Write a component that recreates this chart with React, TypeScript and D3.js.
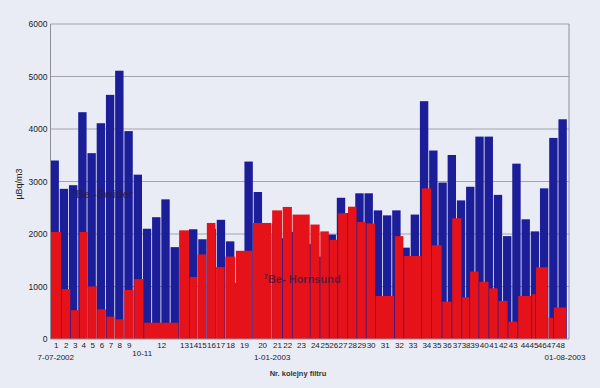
import React, { useEffect, useRef } from "react";
import * as d3 from "d3";

// 7Be - Swider, weekly filters (uBq/m3)
const swiderValues = [
  3400, 2860, 2930, 4320, 3540, 4110, 4650, 5110, 3960, 3130,
  2100, 2320, 2660, 1750, 1470, 2090, 1900, 2100, 2270, 1860,
  1070, 3380, 2800, 2000, 2200, 1920, 2040, 2200, 1810, 1570,
  1990, 2690, 2400, 2775, 2775, 2450, 2355, 2450, 1740, 2370,
  4530, 3590, 2980, 3505, 2640, 2900, 3855, 3855, 2745, 1960,
  3340, 2280, 2050, 2870, 3830, 4185,
];
const swiderPeriod = 7; // days per filter

// 7Be - Hornsund, filters of varying length (start day from 7-07-2002)
const hornsundLabels = [
  "1", "2", "3", "4", "5", "6", "7", "8", "9", "10-11", "12",
  "13", "14", "15", "16", "17", "18", "19", "20", "21", "22", "23",
  "24", "25", "26", "27", "28", "29", "30", "31", "32", "33", "34",
  "35", "36", "37", "38", "39", "40", "41", "42", "43", "44", "45",
  "46", "47", "48",
];
const hornsundStarts = [
  0, 8.5, 15.5, 22, 28.5, 35.5, 42.5, 49, 56, 63.5, 71,
  97.5, 105.5, 111.5, 118.5, 125.5, 132.5, 140.5, 153.5, 168, 176, 183.5,
  197, 204.5, 211.5, 218, 225.5, 232.5, 239.5, 246.5, 261, 268, 281.5,
  289, 297, 304.5, 312, 318, 325, 332.5, 339.5, 347, 354.5, 365,
  368, 377.5, 381.5,
];
const hornsundEnd = 391.5;
const hornsundValues = [
  2040, 950, 550, 2040, 1000, 565, 425, 375, 935, 1140, 310,
  2070, 1180, 1610, 2210, 1370, 1570, 1680, 2210, 2450, 2515, 2370,
  2180, 2050, 1890, 2395, 2520, 2230, 2200, 820, 1960, 1580, 2870,
  1785, 710, 2300, 795, 1285, 1090, 965, 725, 330, 820, 855,
  1365, 405, 600,
];

const yTicks = [0, 1000, 2000, 3000, 4000, 5000, 6000];
const dateLabels = ["7-07-2002", "1-01-2003", "01-08-2003"];
const dateDays = [4, 168, 390];

export default function App() {
  const ref = useRef<SVGSVGElement>(null);

  useEffect(() => {
    const width = 600, height = 388;
    const left = 50.5, right = 569, top = 24, bottom = 339;
    const font = "'Liberation Sans', Arial, sans-serif";

    const svg = d3.select(ref.current);
    svg.selectAll("*").remove();

    svg.append("rect").attr("width", width).attr("height", height).attr("fill", "#e9ecf5");

    const x = d3.scaleLinear().domain([0, 393]).range([left, right]);
    const y = d3.scaleLinear().domain([0, 6000]).range([bottom, top]);

    // grid
    svg.append("g")
      .selectAll("line")
      .data(yTicks.slice(1))
      .join("line")
        .attr("x1", left).attr("x2", right)
        .attr("y1", d => y(d)).attr("y2", d => y(d))
        .attr("stroke", "#a2a3ad").attr("stroke-width", 1);

    svg.append("line")
      .attr("x1", right).attr("x2", right).attr("y1", top).attr("y2", bottom)
      .attr("stroke", "#8d8e98");

    // Swider bars
    svg.append("g")
      .selectAll("rect")
      .data(swiderValues)
      .join("rect")
        .attr("x", (d, i) => x(i * swiderPeriod))
        .attr("width", (d, i) => x((i + 1) * swiderPeriod) - x(i * swiderPeriod) - 0.85)
        .attr("y", d => y(d))
        .attr("height", d => y(0) - y(d))
        .attr("fill", "#1b1e98");

    // Hornsund bars
    const ends = hornsundStarts.slice(1).concat([hornsundEnd]);
    svg.append("g")
      .selectAll("rect")
      .data(hornsundValues)
      .join("rect")
        .attr("x", (d, i) => x(hornsundStarts[i]))
        .attr("width", (d, i) => x(ends[i]) - x(hornsundStarts[i]) - 0.7)
        .attr("y", d => y(d))
        .attr("height", d => y(0) - y(d))
        .attr("fill", "#e5121a");

    // axes lines
    svg.append("line")
      .attr("x1", left).attr("x2", left).attr("y1", top).attr("y2", bottom)
      .attr("stroke", "#8d8e98");
    svg.append("line")
      .attr("x1", left).attr("x2", right).attr("y1", bottom).attr("y2", bottom)
      .attr("stroke", "#8d8e98");

    // y tick labels
    svg.append("g")
      .selectAll("text")
      .data(yTicks)
      .join("text")
        .attr("x", left - 3)
        .attr("y", d => y(d) + 3)
        .attr("text-anchor", "end")
        .attr("font-family", font)
        .attr("font-size", 8.5)
        .attr("fill", "#222")
        .text(d => d);

    // filter numbers
    svg.append("g")
      .selectAll("text")
      .data(hornsundLabels)
      .join("text")
        .attr("x", (d, i) => (x(hornsundStarts[i]) + x(ends[i])) / 2 + (d === "10-11" ? 3 : 0))
        .attr("y", d => (d === "10-11" ? 356 : 347.5))
        .attr("text-anchor", "middle")
        .attr("font-family", font)
        .attr("font-size", 8)
        .attr("fill", "#222")
        .text(d => d);

    // dates
    svg.append("g")
      .selectAll("text")
      .data(dateLabels)
      .join("text")
        .attr("x", (d, i) => x(dateDays[i]))
        .attr("y", 360)
        .attr("text-anchor", "middle")
        .attr("font-family", font)
        .attr("font-size", 8)
        .attr("fill", "#222")
        .text(d => d);

    svg.append("text")
      .attr("x", 298).attr("y", 375.5)
      .attr("text-anchor", "middle")
      .attr("font-family", font).attr("font-size", 7.5).attr("font-weight", "bold")
      .attr("fill", "#333")
      .text("Nr. kolejny filtru");

    svg.append("text")
      .attr("transform", "translate(22,184) rotate(-90)")
      .attr("text-anchor", "middle")
      .attr("font-family", font).attr("font-size", 9)
      .attr("fill", "#222")
      .text("µBq/m3");

    // series annotations
    const note = (tx: number, ty: number, label: string) => {
      const t = svg.append("text")
        .attr("x", tx).attr("y", ty)
        .attr("font-family", font).attr("font-weight", "bold").attr("font-size", 11)
        .attr("fill", "#2a1840").attr("fill-opacity", 0.7);
      t.append("tspan").attr("font-size", 7).attr("dy", -4).text("7");
      t.append("tspan").attr("dy", 4).text(label);
    };
    note(72, 198, "Be -Świder");
    note(264, 283, "Be- Hornsund");
  }, []);

  return (
    <div>
      <style>{`body{margin:0}`}</style>
      <svg ref={ref} width={600} height={388} style={{ display: "block" }} />
    </div>
  );
}
